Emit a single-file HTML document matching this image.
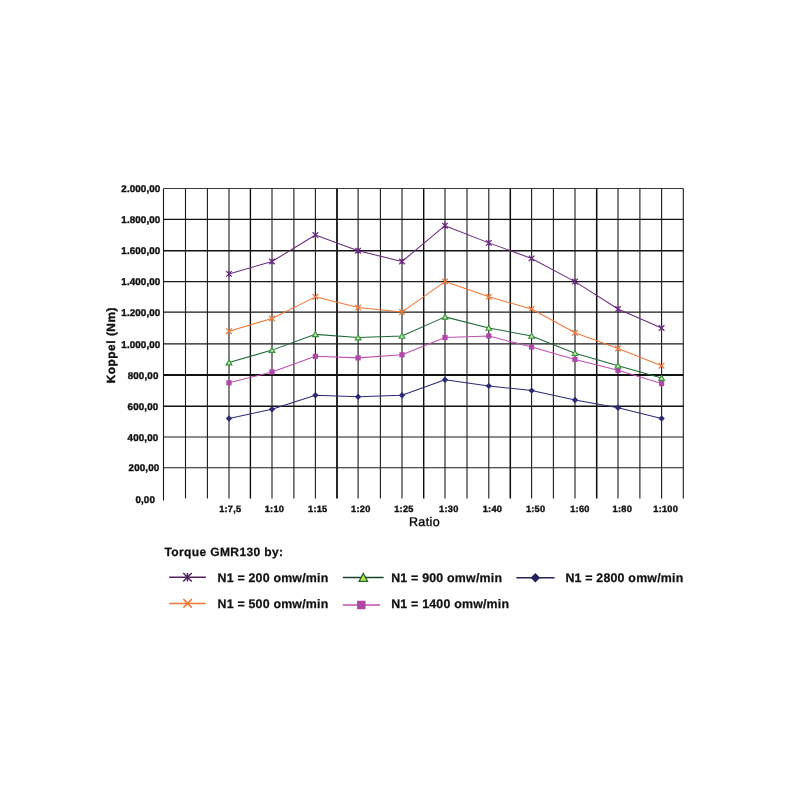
<!DOCTYPE html><html><head><meta charset="utf-8"><style>html,body{margin:0;padding:0;background:#fff;}svg{display:block;filter:blur(0.35px);}text{font-family:"Liberation Sans",sans-serif;text-rendering:geometricPrecision;stroke:#111;stroke-width:0.4px;}.lg{stroke-width:0.25px;}</style></head><body>
<svg width="800" height="800" viewBox="0 0 800 800">
<rect width="800" height="800" fill="#fff"/>
<path d="M163.50 188.40V500.60" stroke="#1a1a1a" stroke-width="1.1" fill="none"/>
<path d="M185.50 188.40V498.60" stroke="#1a1a1a" stroke-width="1.1" fill="none"/>
<path d="M207.40 188.40V498.60" stroke="#1a1a1a" stroke-width="1.1" fill="none"/>
<path d="M229.00 188.40V498.60" stroke="#1a1a1a" stroke-width="1.1" fill="none"/>
<path d="M250.40 188.40V498.60" stroke="#0d0d0d" stroke-width="1.35" fill="none"/>
<path d="M272.00 188.40V498.60" stroke="#1a1a1a" stroke-width="1.1" fill="none"/>
<path d="M293.90 188.40V498.60" stroke="#1a1a1a" stroke-width="1.1" fill="none"/>
<path d="M315.40 188.40V498.60" stroke="#1a1a1a" stroke-width="1.1" fill="none"/>
<path d="M337.00 188.40V498.60" stroke="#111" stroke-width="1.8" fill="none"/>
<path d="M358.10 188.40V498.60" stroke="#1a1a1a" stroke-width="1.1" fill="none"/>
<path d="M380.40 188.40V498.60" stroke="#1a1a1a" stroke-width="1.1" fill="none"/>
<path d="M402.00 188.40V498.60" stroke="#1a1a1a" stroke-width="1.1" fill="none"/>
<path d="M423.70 188.40V498.60" stroke="#0d0d0d" stroke-width="1.4" fill="none"/>
<path d="M445.00 188.40V498.60" stroke="#1a1a1a" stroke-width="1.1" fill="none"/>
<path d="M467.00 188.40V498.60" stroke="#1a1a1a" stroke-width="1.1" fill="none"/>
<path d="M488.80 188.40V498.60" stroke="#1a1a1a" stroke-width="1.1" fill="none"/>
<path d="M510.30 188.40V498.60" stroke="#0d0d0d" stroke-width="1.5" fill="none"/>
<path d="M531.60 188.40V498.60" stroke="#1a1a1a" stroke-width="1.1" fill="none"/>
<path d="M553.40 188.40V498.60" stroke="#1a1a1a" stroke-width="1.1" fill="none"/>
<path d="M575.00 188.40V498.60" stroke="#1a1a1a" stroke-width="1.1" fill="none"/>
<path d="M596.70 188.40V498.60" stroke="#0d0d0d" stroke-width="1.5" fill="none"/>
<path d="M618.00 188.40V498.60" stroke="#1a1a1a" stroke-width="1.1" fill="none"/>
<path d="M639.90 188.40V498.60" stroke="#1a1a1a" stroke-width="1.1" fill="none"/>
<path d="M661.60 188.40V498.60" stroke="#1a1a1a" stroke-width="1.1" fill="none"/>
<path d="M683.30 188.40V498.60" stroke="#1a1a1a" stroke-width="1.1" fill="none"/>
<path d="M163.50 188.50H683.30" stroke="#3a3a3a" stroke-width="1.0" fill="none"/>
<path d="M163.50 219.40H683.30" stroke="#111" stroke-width="1.3" fill="none"/>
<path d="M163.50 250.70H683.30" stroke="#111" stroke-width="1.4" fill="none"/>
<path d="M163.50 281.60H683.30" stroke="#1a1a1a" stroke-width="1.1" fill="none"/>
<path d="M163.50 312.10H683.30" stroke="#1a1a1a" stroke-width="1.1" fill="none"/>
<path d="M163.50 343.90H683.30" stroke="#1a1a1a" stroke-width="1.1" fill="none"/>
<path d="M163.50 375.00H683.30" stroke="#111" stroke-width="1.8" fill="none"/>
<path d="M163.50 406.20H683.30" stroke="#111" stroke-width="1.5" fill="none"/>
<path d="M163.50 437.00H683.30" stroke="#1a1a1a" stroke-width="1.1" fill="none"/>
<path d="M163.50 467.70H683.30" stroke="#1a1a1a" stroke-width="1.1" fill="none"/>
<text x="155.05" y="502.54" font-size="9.8" letter-spacing="0.15" font-weight="bold" text-anchor="end" fill="#111">0,00</text>
<text x="159.45" y="471.40" font-size="9.8" letter-spacing="0.15" font-weight="bold" text-anchor="end" fill="#111">200,00</text>
<text x="158.45" y="440.70" font-size="9.8" letter-spacing="0.15" font-weight="bold" text-anchor="end" fill="#111">400,00</text>
<text x="158.45" y="409.90" font-size="9.8" letter-spacing="0.15" font-weight="bold" text-anchor="end" fill="#111">600,00</text>
<text x="158.55" y="378.70" font-size="9.8" letter-spacing="0.15" font-weight="bold" text-anchor="end" fill="#111">800,00</text>
<text x="160.30" y="347.60" font-size="9.8" letter-spacing="0.1" font-weight="bold" text-anchor="end" fill="#111">1.000,00</text>
<text x="160.30" y="315.80" font-size="9.8" letter-spacing="0.1" font-weight="bold" text-anchor="end" fill="#111">1.200,00</text>
<text x="160.30" y="285.30" font-size="9.8" letter-spacing="0.1" font-weight="bold" text-anchor="end" fill="#111">1.400,00</text>
<text x="160.30" y="254.40" font-size="9.8" letter-spacing="0.1" font-weight="bold" text-anchor="end" fill="#111">1.600,00</text>
<text x="160.30" y="223.10" font-size="9.8" letter-spacing="0.1" font-weight="bold" text-anchor="end" fill="#111">1.800,00</text>
<text x="160.30" y="192.20" font-size="9.8" letter-spacing="0.1" font-weight="bold" text-anchor="end" fill="#111">2.000,00</text>
<text x="230.32" y="511.8" font-size="9.2" letter-spacing="0.25" font-weight="bold" text-anchor="middle" fill="#111">1:7,5</text>
<text x="274.42" y="511.8" font-size="9.2" letter-spacing="0.25" font-weight="bold" text-anchor="middle" fill="#111">1:10</text>
<text x="317.72" y="511.8" font-size="9.2" letter-spacing="0.25" font-weight="bold" text-anchor="middle" fill="#111">1:15</text>
<text x="360.82" y="511.8" font-size="9.2" letter-spacing="0.25" font-weight="bold" text-anchor="middle" fill="#111">1:20</text>
<text x="403.92" y="511.8" font-size="9.2" letter-spacing="0.25" font-weight="bold" text-anchor="middle" fill="#111">1:25</text>
<text x="448.82" y="511.8" font-size="9.2" letter-spacing="0.25" font-weight="bold" text-anchor="middle" fill="#111">1:30</text>
<text x="492.42" y="511.8" font-size="9.2" letter-spacing="0.25" font-weight="bold" text-anchor="middle" fill="#111">1:40</text>
<text x="535.62" y="511.8" font-size="9.2" letter-spacing="0.25" font-weight="bold" text-anchor="middle" fill="#111">1:50</text>
<text x="579.92" y="511.8" font-size="9.2" letter-spacing="0.25" font-weight="bold" text-anchor="middle" fill="#111">1:60</text>
<text x="622.32" y="511.8" font-size="9.2" letter-spacing="0.25" font-weight="bold" text-anchor="middle" fill="#111">1:80</text>
<text x="665.72" y="511.8" font-size="9.2" letter-spacing="0.25" font-weight="bold" text-anchor="middle" fill="#111">1:100</text>
<text x="424.5" y="526.3" font-size="12.5" letter-spacing="0.4" text-anchor="middle" fill="#000" stroke="#000" stroke-width="0.75">Ratio</text>
<text transform="translate(115.3 345.4) rotate(-90)" x="0.27" y="0" font-size="11.8" letter-spacing="0.55" font-weight="bold" text-anchor="middle" fill="#111">Koppel (Nm)</text>
<polyline points="229.00,273.88 272.00,261.51 315.40,235.05 358.10,250.70 402.00,261.51 445.00,225.66 488.80,242.88 531.60,258.43 575.00,281.60 618.00,309.05 661.60,328.00" fill="none" stroke="#6a2a80" stroke-width="1.05" stroke-linejoin="round"/>
<polyline points="229.00,331.18 272.00,318.46 315.40,296.85 358.10,307.53 402.00,312.10 445.00,281.60 488.80,296.85 531.60,309.05 575.00,332.77 618.00,348.56 661.60,365.67" fill="none" stroke="#f07838" stroke-width="1.05" stroke-linejoin="round"/>
<polyline points="229.00,362.56 272.00,350.12 315.40,334.36 358.10,337.54 402.00,335.95 445.00,316.87 488.80,328.00 531.60,335.95 575.00,353.23 618.00,365.67 661.60,378.12" fill="none" stroke="#1f6a3a" stroke-width="1.05" stroke-linejoin="round"/>
<polyline points="229.00,382.80 272.00,371.89 315.40,356.34 358.10,357.89 402.00,354.78 445.00,337.54 488.80,335.95 531.60,347.01 575.00,359.45 618.00,370.33 661.60,383.58" fill="none" stroke="#c050b0" stroke-width="1.05" stroke-linejoin="round"/>
<polyline points="229.00,418.52 272.00,409.28 315.40,395.28 358.10,396.84 402.00,395.28 445.00,379.68 488.80,385.92 531.60,390.60 575.00,399.96 618.00,407.74 661.60,418.52" fill="none" stroke="#2b2b78" stroke-width="1.05" stroke-linejoin="round"/>
<path d="M226.20 271.07L231.80 276.68M226.20 276.68L231.80 271.07M229.00 271.07V276.68" stroke="#6a2a80" stroke-width="1.25" fill="none"/>
<path d="M269.20 258.71L274.80 264.31M269.20 264.31L274.80 258.71M272.00 258.71V264.31" stroke="#6a2a80" stroke-width="1.25" fill="none"/>
<path d="M312.60 232.25L318.20 237.85M312.60 237.85L318.20 232.25M315.40 232.25V237.85" stroke="#6a2a80" stroke-width="1.25" fill="none"/>
<path d="M355.30 247.90L360.90 253.50M355.30 253.50L360.90 247.90M358.10 247.90V253.50" stroke="#6a2a80" stroke-width="1.25" fill="none"/>
<path d="M399.20 258.71L404.80 264.31M399.20 264.31L404.80 258.71M402.00 258.71V264.31" stroke="#6a2a80" stroke-width="1.25" fill="none"/>
<path d="M442.20 222.86L447.80 228.46M442.20 228.46L447.80 222.86M445.00 222.86V228.46" stroke="#6a2a80" stroke-width="1.25" fill="none"/>
<path d="M486.00 240.07L491.60 245.68M486.00 245.68L491.60 240.07M488.80 240.07V245.68" stroke="#6a2a80" stroke-width="1.25" fill="none"/>
<path d="M528.80 255.62L534.40 261.23M528.80 261.23L534.40 255.62M531.60 255.62V261.23" stroke="#6a2a80" stroke-width="1.25" fill="none"/>
<path d="M572.20 278.80L577.80 284.40M572.20 284.40L577.80 278.80M575.00 278.80V284.40" stroke="#6a2a80" stroke-width="1.25" fill="none"/>
<path d="M615.20 306.25L620.80 311.85M615.20 311.85L620.80 306.25M618.00 306.25V311.85" stroke="#6a2a80" stroke-width="1.25" fill="none"/>
<path d="M658.80 325.20L664.40 330.80M658.80 330.80L664.40 325.20M661.60 325.20V330.80" stroke="#6a2a80" stroke-width="1.25" fill="none"/>
<path d="M226.20 328.38L231.80 333.98M226.20 333.98L231.80 328.38" stroke="#f07838" stroke-width="1.25" fill="none"/>
<path d="M269.20 315.66L274.80 321.26M269.20 321.26L274.80 315.66" stroke="#f07838" stroke-width="1.25" fill="none"/>
<path d="M312.60 294.05L318.20 299.65M312.60 299.65L318.20 294.05" stroke="#f07838" stroke-width="1.25" fill="none"/>
<path d="M355.30 304.73L360.90 310.33M355.30 310.33L360.90 304.73" stroke="#f07838" stroke-width="1.25" fill="none"/>
<path d="M399.20 309.30L404.80 314.90M399.20 314.90L404.80 309.30" stroke="#f07838" stroke-width="1.25" fill="none"/>
<path d="M442.20 278.80L447.80 284.40M442.20 284.40L447.80 278.80" stroke="#f07838" stroke-width="1.25" fill="none"/>
<path d="M486.00 294.05L491.60 299.65M486.00 299.65L491.60 294.05" stroke="#f07838" stroke-width="1.25" fill="none"/>
<path d="M528.80 306.25L534.40 311.85M528.80 311.85L534.40 306.25" stroke="#f07838" stroke-width="1.25" fill="none"/>
<path d="M572.20 329.97L577.80 335.57M572.20 335.57L577.80 329.97" stroke="#f07838" stroke-width="1.25" fill="none"/>
<path d="M615.20 345.76L620.80 351.37M615.20 351.37L620.80 345.76" stroke="#f07838" stroke-width="1.25" fill="none"/>
<path d="M658.80 362.87L664.40 368.47M658.80 368.47L664.40 362.87" stroke="#f07838" stroke-width="1.25" fill="none"/>
<rect x="226.40" y="380.20" width="5.20" height="5.20" fill="#b048a8"/>
<rect x="269.40" y="369.29" width="5.20" height="5.20" fill="#b048a8"/>
<rect x="312.80" y="353.74" width="5.20" height="5.20" fill="#b048a8"/>
<rect x="355.50" y="355.29" width="5.20" height="5.20" fill="#b048a8"/>
<rect x="399.40" y="352.18" width="5.20" height="5.20" fill="#b048a8"/>
<rect x="442.40" y="334.94" width="5.20" height="5.20" fill="#b048a8"/>
<rect x="486.20" y="333.35" width="5.20" height="5.20" fill="#b048a8"/>
<rect x="529.00" y="344.41" width="5.20" height="5.20" fill="#b048a8"/>
<rect x="572.40" y="356.85" width="5.20" height="5.20" fill="#b048a8"/>
<rect x="615.40" y="367.73" width="5.20" height="5.20" fill="#b048a8"/>
<rect x="659.00" y="380.98" width="5.20" height="5.20" fill="#b048a8"/>
<path d="M229.00 359.86L231.90 364.86L226.10 364.86Z" stroke="#3a8f40" stroke-width="1.1" fill="#b8eca0"/>
<path d="M272.00 347.42L274.90 352.42L269.10 352.42Z" stroke="#3a8f40" stroke-width="1.1" fill="#b8eca0"/>
<path d="M315.40 331.66L318.30 336.66L312.50 336.66Z" stroke="#3a8f40" stroke-width="1.1" fill="#b8eca0"/>
<path d="M358.10 334.84L361.00 339.84L355.20 339.84Z" stroke="#3a8f40" stroke-width="1.1" fill="#b8eca0"/>
<path d="M402.00 333.25L404.90 338.25L399.10 338.25Z" stroke="#3a8f40" stroke-width="1.1" fill="#b8eca0"/>
<path d="M445.00 314.17L447.90 319.17L442.10 319.17Z" stroke="#3a8f40" stroke-width="1.1" fill="#b8eca0"/>
<path d="M488.80 325.30L491.70 330.30L485.90 330.30Z" stroke="#3a8f40" stroke-width="1.1" fill="#b8eca0"/>
<path d="M531.60 333.25L534.50 338.25L528.70 338.25Z" stroke="#3a8f40" stroke-width="1.1" fill="#b8eca0"/>
<path d="M575.00 350.53L577.90 355.53L572.10 355.53Z" stroke="#3a8f40" stroke-width="1.1" fill="#b8eca0"/>
<path d="M618.00 362.97L620.90 367.97L615.10 367.97Z" stroke="#3a8f40" stroke-width="1.1" fill="#b8eca0"/>
<path d="M661.60 375.42L664.50 380.42L658.70 380.42Z" stroke="#3a8f40" stroke-width="1.1" fill="#b8eca0"/>
<path d="M229.00 415.32L232.20 418.52L229.00 421.72L225.80 418.52Z" fill="#2b2b78"/>
<path d="M272.00 406.08L275.20 409.28L272.00 412.48L268.80 409.28Z" fill="#2b2b78"/>
<path d="M315.40 392.08L318.60 395.28L315.40 398.48L312.20 395.28Z" fill="#2b2b78"/>
<path d="M358.10 393.64L361.30 396.84L358.10 400.04L354.90 396.84Z" fill="#2b2b78"/>
<path d="M402.00 392.08L405.20 395.28L402.00 398.48L398.80 395.28Z" fill="#2b2b78"/>
<path d="M445.00 376.48L448.20 379.68L445.00 382.88L441.80 379.68Z" fill="#2b2b78"/>
<path d="M488.80 382.72L492.00 385.92L488.80 389.12L485.60 385.92Z" fill="#2b2b78"/>
<path d="M531.60 387.40L534.80 390.60L531.60 393.80L528.40 390.60Z" fill="#2b2b78"/>
<path d="M575.00 396.76L578.20 399.96L575.00 403.16L571.80 399.96Z" fill="#2b2b78"/>
<path d="M618.00 404.54L621.20 407.74L618.00 410.94L614.80 407.74Z" fill="#2b2b78"/>
<path d="M661.60 415.32L664.80 418.52L661.60 421.72L658.40 418.52Z" fill="#2b2b78"/>
<text x="164.5" y="556.1" font-size="12" letter-spacing="0.38" font-weight="bold" fill="#111" class="lg">Torque GMR130 by:</text>
<path d="M169.2 577.2H205.9" stroke="#52205f" stroke-width="1.5"/>
<path d="M183.25 572.95L191.75 581.45M183.25 581.45L191.75 572.95M187.50 572.95V581.45" stroke="#52205f" stroke-width="1.5" fill="none"/>
<text x="217.5" y="582.2" font-size="12.4" letter-spacing="0.2" font-weight="bold" fill="#111" class="lg">N1 = 200 omw/min</text>
<path d="M169.2 603.4H205.9" stroke="#f07838" stroke-width="1.5"/>
<path d="M183.35 599.15L191.85 607.65M183.35 607.65L191.85 599.15" stroke="#f07838" stroke-width="1.5" fill="none"/>
<text x="217.5" y="608.0" font-size="12.4" letter-spacing="0.2" font-weight="bold" fill="#111" class="lg">N1 = 500 omw/min</text>
<path d="M342.8 577.6H383.6" stroke="#17452a" stroke-width="1.5"/>
<path d="M363.30 573.35L367.55 581.43L359.05 581.43Z" stroke="#1f6a3a" stroke-width="1.3" fill="#c8e040"/>
<text x="391.2" y="582.2" font-size="12.4" letter-spacing="0.2" font-weight="bold" fill="#111" class="lg">N1 = 900 omw/min</text>
<path d="M342.8 605.0H380.0" stroke="#c050b0" stroke-width="1.5"/>
<rect x="357.05" y="600.75" width="8.50" height="8.50" fill="#b048a8"/>
<text x="391.2" y="608.0" font-size="12.4" letter-spacing="0.2" font-weight="bold" fill="#111" class="lg">N1 = 1400 omw/min</text>
<path d="M516.4 577.7H554.6" stroke="#22225a" stroke-width="1.5"/>
<path d="M535.40 572.95L540.15 577.70L535.40 582.45L530.65 577.70Z" fill="#22225a"/>
<text x="565.4" y="582.2" font-size="12.4" letter-spacing="0.2" font-weight="bold" fill="#111" class="lg">N1 = 2800 omw/min</text>
</svg></body></html>
